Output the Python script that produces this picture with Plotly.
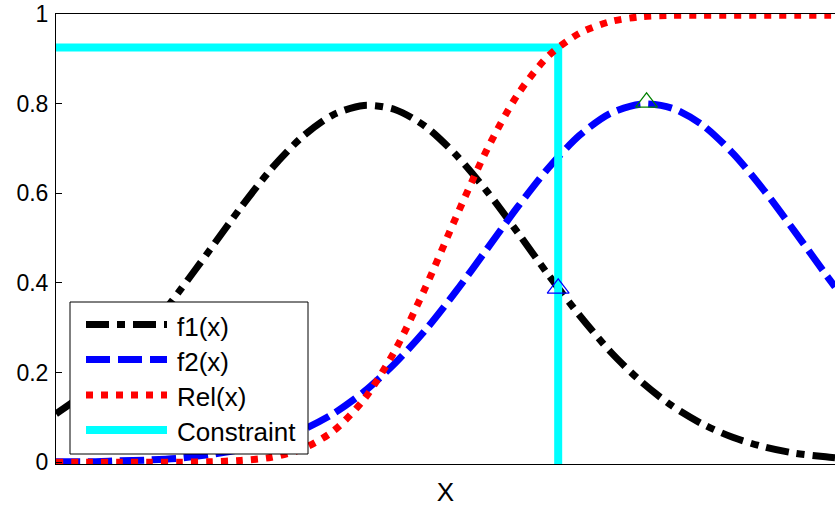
import plotly.graph_objects as go

# ---- data ----
X = [0.0, 0.1, 0.2, 0.3, 0.4, 0.5, 0.6, 0.7, 0.8, 0.9, 1.0, 1.1, 1.2, 1.3,
     1.4, 1.5, 1.6, 1.7, 1.8, 1.9, 2.0, 2.1, 2.2, 2.3, 2.4, 2.5, 2.53]
F1 = [0.108, 0.157, 0.219, 0.294, 0.381, 0.474, 0.568, 0.655, 0.726, 0.775,
      0.796, 0.787, 0.749, 0.685, 0.604, 0.512, 0.417, 0.328, 0.247, 0.180,
      0.126, 0.085, 0.055, 0.034, 0.020, 0.012, 0.010]
F2 = [0.001, 0.001, 0.003, 0.005, 0.009, 0.017, 0.028, 0.046, 0.072, 0.108,
      0.157, 0.220, 0.295, 0.382, 0.476, 0.570, 0.657, 0.729, 0.778, 0.799,
      0.790, 0.752, 0.688, 0.606, 0.514, 0.419, 0.391]
REL = [0.0, 0.0, 0.0, 0.0, 0.0, 0.001, 0.004, 0.011, 0.030, 0.069,
       0.140, 0.248, 0.390, 0.548, 0.698, 0.821, 0.907, 0.957, 0.983, 0.994,
       0.997, 0.997, 0.997, 0.997, 0.997, 0.997, 0.997]
CON_X = [0.0, 1.631, 1.631]
CON_Y = [0.925, 0.925, -0.004]
MARK_F1 = ([1.631], [0.388])
MARK_F2 = ([1.918], [0.803])
NAMES = ["f1(x)", "f2(x)", "Rel(x)", "Constraint"]
COLORS = ["#000000", "#0000ff", "#ff0000", "#00ffff"]
DASHES = ["23px,8px,8px,8px", "24px,8px", "7px,8px", "solid"]
WIDTHS = [7, 7, 7, 8]
Y_TICKS = [0, 0.2, 0.4, 0.6, 0.8, 1]
Y_TICKTEXT = ["0", "0.2", "0.4", "0.6", "0.8", "1"]
X_LABEL = "X"

FONT = "Liberation Sans, Arial, Helvetica, sans-serif"
W, H = 835, 509
ML, MR, MT, MB = 56, 0, 14, 45
PW, PH = W - ML - MR, H - MT - MB


def px_x(p):
    return (p - ML) / PW


def px_y(p):
    return (H - MB - p) / PH


fig = go.Figure()
series = [(X, F1), (X, F2), (CON_X, CON_Y), (X, REL)]
order = [0, 1, 3, 2]
for (xs, ys), i in zip(series, order):
    fig.add_trace(go.Scatter(
        x=xs, y=ys, mode="lines", name=NAMES[i], showlegend=False,
        line=dict(color=COLORS[i], width=WIDTHS[i], dash=DASHES[i],
                  shape="spline" if i != 3 else "linear", smoothing=0.8),
    ))

fig.add_trace(go.Scatter(x=MARK_F1[0], y=MARK_F1[1], mode="markers", showlegend=False,
                         marker=dict(symbol="triangle-up-open", size=19,
                                     color="#0000ff", line=dict(width=1.2, color="#0000ff"))))
fig.add_trace(go.Scatter(x=MARK_F2[0], y=MARK_F2[1], mode="markers", showlegend=False,
                         marker=dict(symbol="triangle-up-open", size=19,
                                     color="#008000", line=dict(width=1.2, color="#008000"))))

# manual legend (box, line samples, labels)
shapes = [dict(type="rect", xref="paper", yref="paper",
               x0=px_x(70), x1=px_x(308), y0=px_y(454), y1=px_y(302),
               line=dict(color="black", width=1), fillcolor="white", layer="above")]
annotations = []
rows = [324.5, 359.5, 395, 430]
for i, r in enumerate(rows):
    shapes.append(dict(type="line", xref="paper", yref="paper",
                       x0=px_x(86), x1=px_x(167), y0=px_y(r), y1=px_y(r),
                       line=dict(color=COLORS[i], width=WIDTHS[i], dash=DASHES[i]),
                       layer="above"))
    annotations.append(dict(xref="paper", yref="paper", x=px_x(175), y=px_y(r + 2),
                            xanchor="left", yanchor="middle", showarrow=False,
                            text=NAMES[i], font=dict(family=FONT, size=26, color="black")))

fig.update_layout(
    width=W, height=H,
    margin=dict(l=ML, r=MR, t=MT, b=MB, pad=0),
    paper_bgcolor="white", plot_bgcolor="white",
    shapes=shapes, annotations=annotations,
    showlegend=False,
    font=dict(family=FONT, color="black"),
)
fig.update_xaxes(range=[0, 2.53], showgrid=False, zeroline=False,
                 showticklabels=False, ticks="",
                 showline=True, linecolor="black", linewidth=1, mirror=True,
                 title=dict(text=X_LABEL, font=dict(family=FONT, size=26), standoff=18))
fig.update_yaxes(range=[-0.004, 1.0], showgrid=False, zeroline=False,
                 tickvals=Y_TICKS, ticktext=Y_TICKTEXT, ticks="inside", ticklen=6,
                 tickcolor="black", tickfont=dict(family=FONT, size=23),
                 ticklabelstandoff=2,
                 showline=True, linecolor="black", linewidth=1)

fig.write_html("out.html")
